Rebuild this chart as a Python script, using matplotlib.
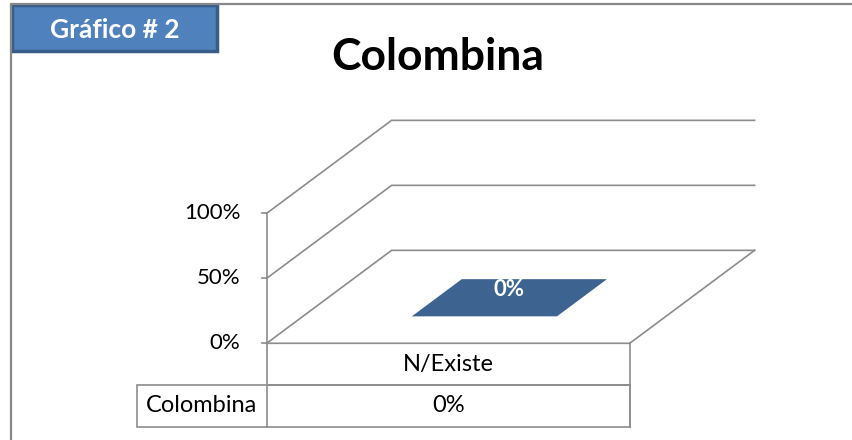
import matplotlib.pyplot as plt
from matplotlib.lines import Line2D
from matplotlib.patches import Polygon, Rectangle

# chart content
badge_text = "Gráfico # 2"
title = "Colombina"
categories = ["N/Existe"]
series_name = "Colombina"
values = [0.0]
y_ticks = [0.0, 0.5, 1.0]
y_tick_labels = ["0%", "50%", "100%"]

plt.rcParams["font.family"] = ["Lato", "DejaVu Sans"]

W, H = 853, 440
fig = plt.figure(figsize=(W / 100, H / 100), dpi=100)
ax = fig.add_axes([0, 0, 1, 1])

# one category = 363 px wide, 100% = 130 px tall, origin at the front-left floor corner
px_x, px_y = 363.0, 130.0
ox, oy = 266.7, H - 343.3
ax.set_xlim(-ox / px_x, (W - ox) / px_x)
ax.set_ylim(-oy / px_y, (H - oy) / px_y)
ax.axis("off")

grid_c = "#8c8c8c"
lw = 1.2
depth_x, depth_y = 0.344, 0.715   # oblique projection of the floor depth
row_h = 0.32                      # data table row height
label_w = 0.3565                  # data table row-label column width
n = len(categories)

# side/back wall gridlines
for t in y_ticks:
    ax.plot([0, depth_x, n + depth_x], [t, t + depth_y, t + depth_y], color=grid_c, lw=lw)
    ax.plot([-0.014, 0], [t, t], color=grid_c, lw=lw)
for t, lab in zip(y_ticks, y_tick_labels):
    ax.text(-0.072, t, lab, ha="right", va="center", fontsize=16, color="#000000")

# floor front and right edges
ax.plot([0, n, n + depth_x], [0, 0, depth_y], color=grid_c, lw=lw)
# value axis, continued down through the data table
ax.plot([0, 0], [-2 * row_h, y_ticks[-1]], color=grid_c, lw=lw)

# 3D columns
bar_w, d0, d1 = 0.40, 0.29, 0.69
bar_c = "#3d6390"
for i, v in enumerate(values):
    left = i + (1 - bar_w) / 2
    right = left + bar_w
    if v > 0:
        ax.add_patch(Polygon([(left + d0 * depth_x, d0 * depth_y), (right + d0 * depth_x, d0 * depth_y),
                              (right + d0 * depth_x, v + d0 * depth_y), (left + d0 * depth_x, v + d0 * depth_y)],
                             closed=True, fc=bar_c, ec="none"))
        ax.add_patch(Polygon([(right + d0 * depth_x, d0 * depth_y), (right + d1 * depth_x, d1 * depth_y),
                              (right + d1 * depth_x, v + d1 * depth_y), (right + d0 * depth_x, v + d0 * depth_y)],
                             closed=True, fc="#2f4e73", ec="none"))
    top = [(left + d0 * depth_x, v + d0 * depth_y), (right + d0 * depth_x, v + d0 * depth_y),
           (right + d1 * depth_x, v + d1 * depth_y), (left + d1 * depth_x, v + d1 * depth_y)]
    ax.add_patch(Polygon(top, closed=True, fc=bar_c, ec="none"))
    dm = (d0 + d1) / 2
    ax.annotate(f"{v:.0%}", xy=(i + 0.5 + dm * depth_x, v + dm * depth_y), xytext=(0, 6),
                textcoords="offset points", ha="center", va="center",
                fontsize=16, fontweight="bold", color="white")

# data table
ax.plot([n, n], [0, -2 * row_h], color=grid_c, lw=lw)
ax.plot([0, n], [-row_h, -row_h], color=grid_c, lw=lw)
ax.add_patch(Rectangle((-label_w, -2 * row_h), label_w + n, row_h, fc="none", ec=grid_c, lw=lw))
for i, cat in enumerate(categories):
    ax.text(i + 0.5, -row_h / 2, cat, ha="center", va="center", fontsize=17)
    ax.text(i + 0.5, -1.5 * row_h, f"{values[i]:.0%}", ha="center", va="center", fontsize=17)
ax.text(-label_w / 2, -1.5 * row_h, series_name, ha="center", va="center", fontsize=17)

# chart frame
fig.add_artist(Line2D([11 / W, 11 / W, 1.0], [0, 1 - 4.5 / H, 1 - 4.5 / H], color="#888888", lw=1.6))

# title
fig.text(437.5 / W, 1 - 57 / H, title, ha="center", va="center", fontsize=32, fontweight="bold")

# badge
fig.add_artist(Rectangle((12.5 / W, 1 - 51.5 / H), 205 / W, 46.5 / H, transform=fig.transFigure,
                         fc="#4f81bd", ec="#385d8a", lw=2.5))
fig.text(115 / W, 1 - 30 / H, badge_text, ha="center", va="center", fontsize=19,
         fontweight="bold", color="white")

fig.savefig("out.png", dpi=100)
